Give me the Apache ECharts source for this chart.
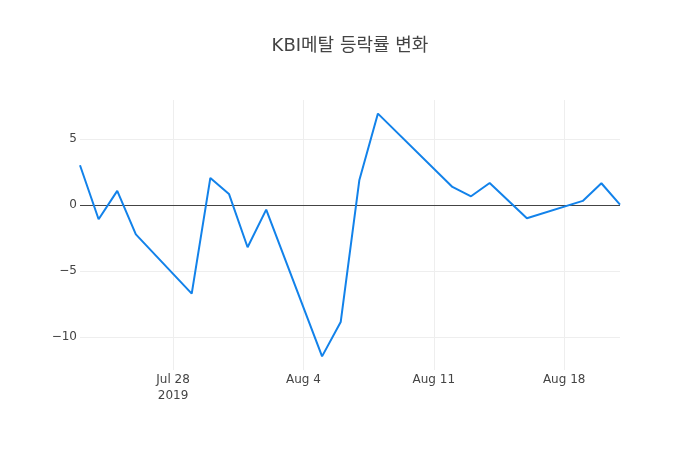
<!DOCTYPE html>
<html>
<head>
<meta charset="utf-8">
<script src="https://cdn.jsdelivr.net/npm/echarts@6/dist/echarts.min.js"></script>
<style>
html, body { margin: 0; padding: 0; background: #fff; }
#main { width: 700px; height: 450px; }
</style>
</head>
<body>
<div id="main"></div>
<script>
// 날짜 (거래일)
var dates = ['2019-07-23', '2019-07-24', '2019-07-25', '2019-07-26', '2019-07-29', '2019-07-30',
	'2019-07-31', '2019-08-01', '2019-08-02', '2019-08-05', '2019-08-06', '2019-08-07', '2019-08-08',
	'2019-08-12', '2019-08-13', '2019-08-14', '2019-08-16', '2019-08-19', '2019-08-20', '2019-08-21'];
// 등락률 (%)
var changes = [3.03, -1.06, 1.09, -2.2, -6.69, 2.07, 0.86, -3.18, -0.33, -11.44, -8.84, 1.89, 6.94,
	1.39, 0.68, 1.69, -0.98, 0.33, 1.67, 0.05];
// 눈금
var xTicks = ['2019-07-28', '2019-08-04', '2019-08-11', '2019-08-18'];
var yTicks = [-10, -5, 0, 5];
var months = ['Jan', 'Feb', 'Mar', 'Apr', 'May', 'Jun', 'Jul', 'Aug', 'Sep', 'Oct', 'Nov', 'Dec'];

(function () {
	var myChart = echarts.init(document.getElementById('main'));
	var font = '"DejaVu Sans", "Noto Sans CJK KR", sans-serif';
	function toTime(s) { return echarts.number.parseDate(s).getTime(); }
	var tickTimes = xTicks.map(toTime);
	var seriesData = dates.map(function (d, i) { return [toTime(d), changes[i]]; });
	var gridStyle = { color: '#eee', width: 1, type: 'solid' };

	var option = {
		backgroundColor: '#fff',
		animation: false,
		textStyle: { fontFamily: font },
		title: {
			text: 'KBI메탈 등락률 변화',
			left: 'center',
			top: 32,
			textStyle: {
				fontFamily: font,
				fontSize: 18,
				fontWeight: 'normal',
				color: '#444'
			}
		},
		grid: {
			left: 80,
			right: 80,
			top: 100,
			bottom: 80,
			containLabel: false
		},
		xAxis: {
			type: 'value',
			min: toTime(dates[0]),
			max: toTime(dates[dates.length - 1]),
			axisLine: { show: false },
			axisTick: { show: false },
			splitLine: { show: false },
			axisLabel: {
				customValues: tickTimes,
				color: '#444',
				fontFamily: font,
				fontSize: 12,
				margin: 2,
				lineHeight: 16,
				formatter: function (v) {
					var d = new Date(v);
					var s = months[d.getMonth()] + ' ' + d.getDate();
					if (v === tickTimes[0]) s += '\n' + d.getFullYear();
					return s;
				}
			}
		},
		yAxis: {
			type: 'value',
			min: -12.47,
			max: 7.97,
			axisLine: { show: false },
			axisTick: { show: false },
			axisLabel: {
				customValues: yTicks,
				color: '#444',
				fontFamily: font,
				fontSize: 12,
				margin: 3,
				formatter: function (v) {
					return v < 0 ? '\u2212' + Math.abs(v) : String(v);
				}
			},
			splitLine: { show: false }
		},
		series: [{
			// 격자선과 0 기준선 (선 아래에 그림)
			name: 'grid',
			type: 'line',
			z: 1,
			silent: true,
			data: seriesData,
			showSymbol: false,
			lineStyle: { opacity: 0 },
			markLine: {
				silent: true,
				z: 1,
				symbol: 'none',
				label: { show: false },
				data: tickTimes.map(function (t) {
					return { xAxis: t, lineStyle: gridStyle };
				}).concat(yTicks.filter(function (v) { return v !== 0; }).map(function (v) {
					return { yAxis: v, lineStyle: gridStyle };
				})).concat([{ yAxis: 0, lineStyle: { color: '#444', width: 1, type: 'solid' } }])
			}
		}, {
			name: 'KBI메탈',
			type: 'line',
			z: 3,
			data: seriesData,
			showSymbol: false,
			lineStyle: { color: '#1282ea', width: 2 },
			itemStyle: { color: '#1282ea' }
		}]
	};
	myChart.setOption(option);
})();
</script>
</body>
</html>
